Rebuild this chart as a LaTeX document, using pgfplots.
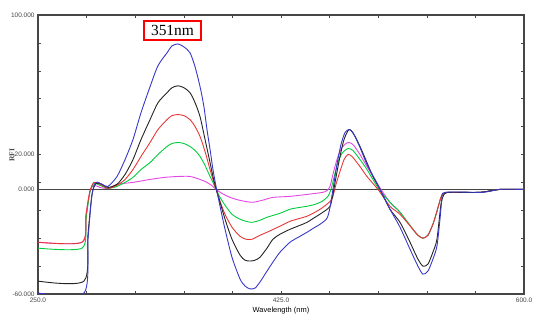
\documentclass[border=0pt]{standalone}
\usepackage{pgfplots}
\pgfplotsset{compat=1.18}
\usepackage{fontspec}
\setmainfont{Liberation Sans}
\newfontfamily\seriffont{Liberation Serif}
\definecolor{cblue}{RGB}{55,55,200}
\definecolor{cblack}{RGB}{35,35,35}
\definecolor{cred}{RGB}{230,55,55}
\definecolor{cgreen}{RGB}{0,205,60}
\definecolor{cmag}{RGB}{230,70,230}
\definecolor{axgray}{RGB}{70,70,70}
\begin{document}
\begin{tikzpicture}
\begin{axis}[
  scale only axis,
  width=486bp, height=279bp,
  xmin=250, xmax=600, ymin=-60, ymax=100,
  axis line style={axgray, line width=1.1pt},
  xtick={250,285,...,600},
  xticklabels={250.0,,,,,425.0,,,,,600.0},
  ytick={-60,-44,...,100},
  yticklabels={-60.000,,,,,20.000,,,,,100.000},
  extra y ticks={0},
  extra y tick labels={0.000},
  extra y tick style={major tick length=0pt},
  tick style={axgray, line width=0.5pt},
  major tick length=3bp,
  tick align=inside,
  xticklabel style={font=\fontsize{6.5}{7}\selectfont, text=axgray, yshift=0bp},
  yticklabel style={font=\fontsize{6.5}{7}\selectfont, text=axgray},
  xlabel={Wavelength (nm)},
  xlabel style={font=\fontsize{7.5}{8}\selectfont, text=black, at={(rel axis cs:0.5,0)}, anchor=center, yshift=-17bp},
  ylabel={RFI},
  ylabel style={font=\seriffont\bfseries\fontsize{7.5}{8}\selectfont, text=axgray, at={(rel axis cs:0,0.498)}, anchor=center, yshift=26bp},
  clip=true,
]
\draw[axgray, line width=1.3pt] (axis cs:250,0) -- (axis cs:600,0);
% magenta
\addplot[cmag, line width=0.9pt, smooth, tension=0.45] coordinates {(250,-30.3)(281.7,-30.3)(284.6,-14.3)(287.4,-1.1)(290.3,2.3)(294.6,1.1)(300.4,0.6)(306.9,2.9)(318.4,4.0)(330.7,5.7)(341.5,6.9)(350.8,7.4)(359.5,7.4)(366.7,5.7)(371.7,4.0)(376.0,1.7)(378.2,0)(382.5,-2.3)(388.3,-4.6)(395.5,-6.3)(404.1,-7.4)(411.3,-6.3)(419.2,-4.6)(431.5,-4.0)(443.7,-2.9)(455.2,-1.7)(458.1,-0.6)(460.3,1.7)(462.4,8.6)(465.3,17.1)(468.9,24.0)(473.2,26.9)(476.8,25.7)(481.9,20.0)(486.9,13.1)(497.0,0)(503.5,-7.4)(510.7,-13.1)(520.0,-22.9)(523.6,-26.3)(527.2,-28.0)(530.8,-26.3)(534.4,-20.0)(537.3,-12.6)(540.2,-4.6)(542.4,-2.3)(546.7,-1.7)(568.3,-1.7)(582.7,0)(600,0)};
% green
\addplot[cgreen, line width=0.9pt, smooth, tension=0.45] coordinates {(250,-33.7)(281.7,-33.7)(284.6,-17.1)(287.4,-1.7)(290.3,3.4)(294.6,2.3)(300.4,0.6)(306.9,1.7)(312.7,4.0)(318.4,6.9)(324.2,11.4)(330.7,15.4)(336.4,20.0)(342.9,24.6)(346.5,26.3)(350.8,26.9)(355.1,26.3)(359.5,24.6)(363.1,22.3)(366.7,18.9)(370.3,13.7)(373.9,7.4)(376.0,4.0)(378.2,0)(381.1,-4.6)(384.7,-9.1)(389.7,-14.3)(395.5,-17.1)(399.8,-18.3)(404.1,-18.9)(409.9,-17.7)(414.9,-16.0)(424.3,-13.7)(431.5,-11.4)(438.7,-10.3)(443.7,-9.7)(449.5,-8.6)(454.5,-6.9)(458.8,-4.0)(461.0,0)(463.2,6.9)(466.0,15.4)(468.9,20.6)(473.2,23.4)(476.8,22.3)(481.9,17.1)(486.9,11.4)(495.6,0)(503.5,-7.4)(510.7,-13.1)(520.0,-22.9)(523.6,-26.3)(527.2,-28.0)(530.8,-26.3)(534.4,-20.0)(537.3,-12.6)(540.2,-4.6)(542.4,-2.3)(546.7,-1.7)(568.3,-1.7)(582.7,0)(600,0)};
% red
\addplot[cred, line width=0.9pt, smooth, tension=0.45] coordinates {(250,-30.3)(281.7,-30.3)(284.6,-14.3)(287.4,-1.1)(290.3,4.0)(294.6,2.9)(300.4,0.6)(306.9,2.3)(312.7,5.7)(318.4,11.4)(324.2,18.9)(330.7,26.9)(336.4,34.3)(342.9,40.0)(346.5,42.3)(350.8,42.9)(355.1,42.3)(359.5,40.0)(363.1,36.0)(366.7,30.3)(370.3,21.7)(373.9,11.4)(376.0,5.7)(378.2,0)(381.1,-6.9)(384.7,-14.3)(389.7,-21.7)(395.5,-26.9)(399.8,-28.6)(404.1,-28.6)(409.9,-26.3)(414.9,-24.6)(424.3,-21.1)(431.5,-18.3)(438.7,-16.6)(443.7,-15.4)(449.5,-13.1)(455.2,-10.3)(460.3,-6.9)(462.4,-4.0)(464.6,2.9)(467.5,10.3)(470.4,17.1)(473.2,20.0)(476.1,18.9)(481.9,13.1)(486.9,7.4)(494.8,0)(503.5,-9.7)(510.7,-14.3)(520.0,-22.9)(523.6,-26.3)(527.2,-28.0)(530.8,-26.3)(534.4,-20.0)(537.3,-12.6)(540.2,-4.6)(542.4,-2.3)(546.7,-1.7)(568.3,-1.7)(582.7,0)(600,0)};
% black
\addplot[cblack, line width=0.9pt, smooth, tension=0.45] coordinates {(250,-52.6)(283.1,-52.6)(286.0,-25.7)(288.9,-2.9)(291.8,3.4)(296.1,2.9)(300.4,1.1)(306.9,2.9)(312.7,8.6)(318.4,17.1)(324.2,28.6)(330.7,40.0)(336.4,49.7)(342.9,55.4)(346.5,58.3)(350.8,59.4)(355.1,58.3)(359.5,55.4)(363.1,49.7)(366.7,41.7)(370.3,28.6)(373.9,15.4)(376.0,7.4)(378.2,0.6)(381.1,-7.4)(384.7,-17.1)(389.7,-28.6)(395.5,-37.7)(399.1,-40.6)(402.7,-41.1)(406.3,-40.6)(409.9,-38.9)(414.9,-33.7)(419.2,-28.6)(424.3,-25.7)(431.5,-22.9)(438.7,-20.6)(443.7,-18.9)(449.5,-16.0)(455.2,-13.1)(460.3,-9.7)(462.4,-2.9)(464.6,6.9)(467.5,18.9)(470.4,28.6)(474.0,34.3)(477.6,31.4)(481.9,24.6)(486.9,15.4)(491.2,7.4)(496.3,0)(503.5,-11.4)(510.7,-18.9)(517.9,-30.3)(523.6,-40.0)(527.2,-44.0)(530.8,-42.9)(534.4,-36.0)(537.3,-28.6)(540.2,-8.6)(542.4,-2.9)(546.7,-1.7)(568.3,-1.7)(582.7,0)(600,0)};
% blue
\addplot[cblue, line width=0.9pt, smooth, tension=0.45] coordinates {(250,-59.4)(283.1,-59.4)(286.0,-28.6)(288.9,-2.9)(291.8,4.0)(296.1,2.9)(300.4,1.7)(306.9,7.4)(312.7,17.1)(318.4,28.6)(324.2,44.0)(330.7,58.9)(336.4,70.9)(342.9,78.3)(346.5,82.3)(350.8,83.4)(355.1,81.7)(359.5,78.3)(363.1,70.3)(366.7,58.9)(369.5,47.4)(371.7,34.3)(373.9,22.9)(376.0,11.4)(378.2,1.7)(381.1,-9.7)(384.7,-22.9)(389.7,-38.9)(395.5,-51.4)(399.1,-55.4)(402.7,-57.1)(406.3,-56.6)(409.9,-53.1)(414.9,-46.9)(419.2,-41.7)(424.3,-36.0)(431.5,-30.3)(438.7,-26.9)(443.7,-24.6)(449.5,-21.7)(453.1,-20.0)(458.1,-16.6)(460.3,-10.3)(462.4,0)(465.3,14.3)(468.2,25.7)(471.1,32.6)(474.0,34.3)(476.8,32.6)(481.9,24.0)(486.9,14.3)(492.7,5.7)(496.3,0)(503.5,-11.4)(510.7,-21.7)(517.9,-34.3)(523.6,-44.0)(527.2,-48.6)(530.8,-46.9)(534.4,-40.0)(537.3,-32.6)(539.5,-17.1)(540.9,-5.7)(543.1,-1.7)(568.3,-1.7)(575.5,-1.1)(582.7,0)(600,0)};
\end{axis}
\node[draw=red, line width=2pt, inner xsep=7bp, inner ysep=4bp, fill=white, font=\seriffont\fontsize{15.5}{16}\selectfont] at ([xshift=134.5bp,yshift=-15.5bp]current axis.north west) {351nm};
\path[use as bounding box] ([xshift=-38bp,yshift=-34bp]current axis.south west) rectangle ([xshift=26bp,yshift=15bp]current axis.north east);
\end{tikzpicture}
\end{document}
